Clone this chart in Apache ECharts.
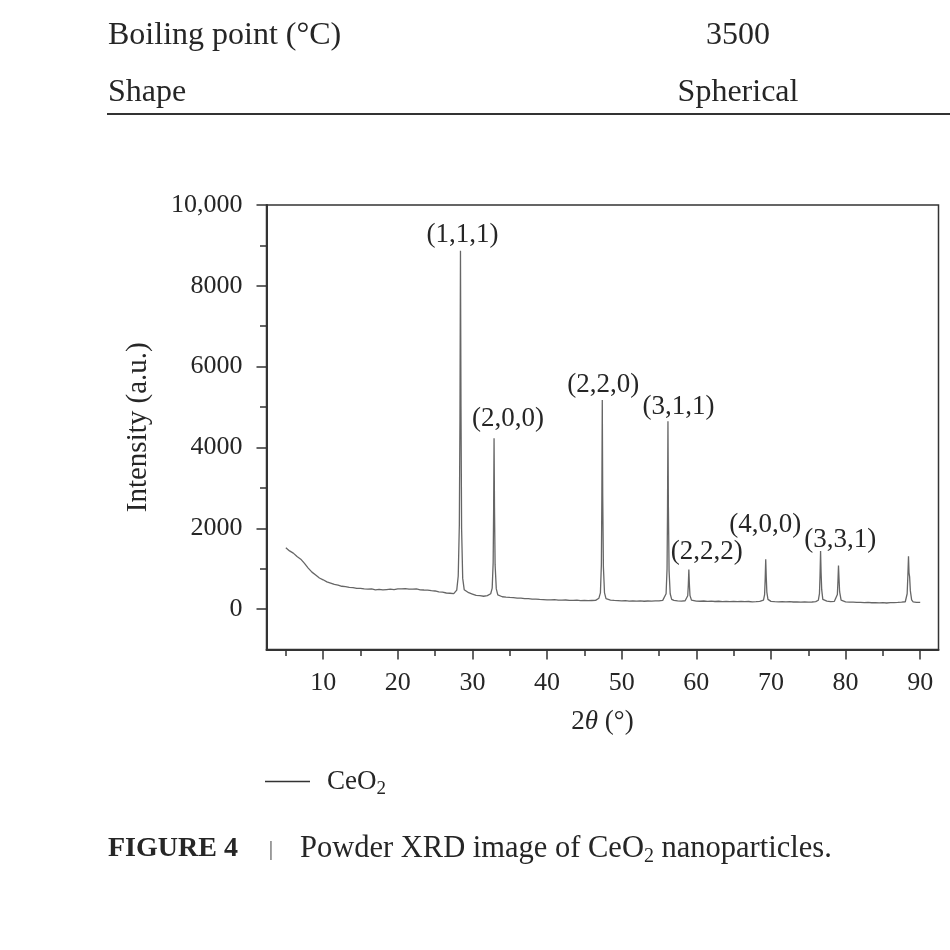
<!DOCTYPE html>
<html>
<head>
<meta charset="utf-8">
<title>Powder XRD of CeO2</title>
<script src="https://cdn.jsdelivr.net/npm/echarts@6/dist/echarts.min.js"></script>
<style>
  html, body { margin: 0; padding: 0; background: #fff; }
  #chart { width: 950px; height: 950px; }
</style>
</head>
<body>
<div id="chart"></div>
<script>
// 2θ (°) vs intensity (a.u.)
const ceo2Pattern = [
  [5.0,1520],[5.5,1440],[6.0,1385],[6.5,1300],[7.0,1235],[7.5,1130],[8.0,1015],[8.5,915],[9.0,845],[9.5,770],
  [10.0,725],[10.5,675],[11.0,645],[11.5,610],[12.0,595],[12.5,565],[13.0,558],[13.5,535],[14.0,532],[14.5,512],
  [15.0,515],[15.5,498],[16.0,492],[16.5,500],[17.0,478],[17.5,488],[18.0,474],[18.5,484],[19.0,492],[19.5,482],
  [20.0,498],[20.5,502],[21.0,508],[21.5,496],[22.0,492],[22.5,498],[23.0,478],[23.5,472],[24.0,468],[24.5,456],
  [25.0,448],[25.5,428],[26.0,418],[26.5,398],[27.0,392],[27.5,382],
  [27.9,470],[28.1,820],[28.25,2100],[28.33,4700],[28.4,8870],[28.47,5000],[28.55,2000],[28.7,760],[28.9,480],
  [29.5,405],[30.0,372],[30.5,338],[31.0,332],[31.5,318],[32.0,335],
  [32.45,380],[32.65,520],[32.78,1150],[32.84,2400],[32.9,4225],[32.96,2500],[33.04,1100],[33.2,500],[33.4,350],
  [34.0,305],[34.5,296],[35.0,288],[35.5,282],[36.0,272],[36.5,270],[37.0,260],[37.5,258],[38.0,248],[38.5,246],
  [39.0,238],[39.5,236],[40.0,230],[40.5,228],[41.0,232],[41.5,222],[42.0,220],[42.5,225],[43.0,216],[43.5,214],
  [44.0,220],[44.5,210],[45.0,216],[45.5,208],[46.0,212],[46.5,216],
  [46.95,270],[47.15,400],[47.28,1100],[47.34,2700],[47.4,5175],[47.46,2800],[47.55,1050],[47.7,400],[47.9,260],
  [48.5,224],[49.0,214],[49.5,210],[50.0,204],[50.5,208],[51.0,198],[51.5,205],[52.0,196],[52.5,202],[53.0,194],
  [53.5,200],[54.0,196],[54.5,203],[55.0,205],[55.5,216],
  [55.75,250],[55.95,380],[56.08,1000],[56.14,2400],[56.2,4650],[56.26,2500],[56.35,950],[56.5,380],[56.7,240],
  [57.0,214],[57.5,204],[58.0,198],[58.5,206],
  [58.7,230],[58.85,330],[58.93,600],[59.0,980],[59.07,620],[59.15,340],[59.35,222],
  [59.5,205],[60.0,196],[60.5,194],[61.0,200],[61.5,190],[62.0,196],[62.5,188],[63.0,194],[63.5,186],[64.0,192],
  [64.5,184],[65.0,190],[65.5,185],[66.0,191],[66.5,183],[67.0,188],[67.5,181],[68.0,186],[68.5,192],
  [69.0,222],[69.15,360],[69.23,750],[69.3,1230],[69.37,800],[69.45,420],[69.6,240],[69.8,200],
  [70.0,190],[70.5,183],[71.0,179],[71.5,186],[72.0,177],[72.5,183],[73.0,175],[73.5,181],[74.0,174],[74.5,179],
  [75.0,171],[75.5,176],[76.0,186],
  [76.35,220],[76.5,380],[76.58,850],[76.65,1435],[76.72,900],[76.8,480],[76.95,240],
  [77.5,196],[78.0,185],[78.5,192],
  [78.75,212],[78.9,360],[78.98,700],[79.05,1080],[79.12,760],[79.2,430],[79.4,222],
  [80.0,180],[80.5,174],[81.0,170],[81.5,164],[82.0,168],[82.5,159],[83.0,165],[83.5,157],[84.0,162],[84.5,154],
  [85.0,160],[85.5,151],[86.0,158],[86.5,161],[87.0,164],[87.5,171],[88.0,182],
  [88.1,200],[88.25,380],[88.35,850],[88.43,1310],[88.5,900],[88.58,800],[88.68,450],[88.85,230],[89.05,180],
  [89.5,168],[90.0,164]
];

// Miller indices written over the peaks, and where they sit (2θ, intensity)
const peakNames = ['(1,1,1)', '(2,0,0)', '(2,2,0)', '(3,1,1)', '(2,2,2)', '(4,0,0)', '(3,3,1)'];
const peakLabelAt = [[28.66, 9257], [34.76, 4696], [47.54, 5545], [57.6, 5007], [61.4, 1418], [69.22, 2079], [79.27, 1708]];

const xMajorTicks = [10, 20, 30, 40, 50, 60, 70, 80, 90];
const xMinorTicks = [5, 15, 25, 35, 45, 55, 65, 75, 85];
const yMajorTicks = [0, 2000, 4000, 6000, 8000, 10000];
const yTickLabels = ['0', '2000', '4000', '6000', '8000', '10,000'];
const yMinorTicks = [1000, 3000, 5000, 7000, 9000];

const X_MIN = 2.41, X_MAX = 92.45;
const Y_MIN = -1000, Y_MAX = 10000;

const FONT = '"Liberation Serif", "DejaVu Serif", serif';
const INK = '#262626';
const AXIS = '#333';

const chart = echarts.init(document.getElementById('chart'));

const hiddenAxisBits = {
  axisLine: { show: false, onZero: false },
  axisLabel: { show: false },
  splitLine: { show: false }
};

chart.setOption({
  animation: false,
  textStyle: { fontFamily: FONT, color: INK },
  grid: {
    left: 266.5, top: 205, right: 11.5, bottom: 300.5,
    show: true, borderColor: AXIS, borderWidth: 1.5
  },
  legend: {
    data: [{ name: 'CeO2', icon: 'rect' }],
    left: 260, top: 763,
    itemWidth: 45, itemHeight: 1.5,
    itemStyle: { color: '#333' },
    formatter: () => '{a|CeO}{b|2}',
    textStyle: {
      rich: {
        a: { fontSize: 27, fontFamily: FONT, color: INK, lineHeight: 34, padding: [0, 0, 0, 12] },
        b: { fontSize: 19, fontFamily: FONT, color: INK, lineHeight: 19, verticalAlign: 'bottom' }
      }
    }
  },
  xAxis: [
    {
      type: 'value', min: X_MIN, max: X_MAX, position: 'bottom',
      axisLine: { onZero: false, lineStyle: { color: AXIS, width: 2 } },
      axisTick: { length: 10, customValues: xMajorTicks, lineStyle: { color: AXIS, width: 1.5 } },
      axisLabel: { customValues: xMajorTicks, margin: 21, fontSize: 26, fontFamily: FONT, color: INK },
      splitLine: { show: false },
      name: '{n|2}{i|θ}{n| (°)}',
      nameLocation: 'middle', nameGap: 59,
      nameTextStyle: {
        rich: {
          n: { fontSize: 27, fontFamily: FONT, color: INK },
          i: { fontSize: 27, fontFamily: FONT, color: INK, fontStyle: 'italic' }
        }
      }
    },
    Object.assign({
      type: 'value', min: X_MIN, max: X_MAX, position: 'bottom', offset: 0,
      axisTick: { show: true, length: 6.5, customValues: xMinorTicks, lineStyle: { color: AXIS, width: 1.5 } }
    }, hiddenAxisBits)
  ],
  yAxis: [
    {
      type: 'value', min: Y_MIN, max: Y_MAX, interval: 1000, position: 'left',
      axisLine: { show: true, onZero: false, lineStyle: { color: AXIS, width: 2 } },
      axisTick: { show: true, length: 10, customValues: yMajorTicks, lineStyle: { color: AXIS, width: 1.5 } },
      axisLabel: {
        customValues: yMajorTicks, margin: 24, fontSize: 26, fontFamily: FONT, color: INK,
        formatter: v => yTickLabels[yMajorTicks.indexOf(v)]
      },
      splitLine: { show: false },
      name: 'Intensity (a.u.)',
      nameLocation: 'middle', nameGap: 114,
      nameTextStyle: { fontSize: 29, fontFamily: FONT, color: INK }
    },
    Object.assign({
      type: 'value', min: Y_MIN, max: Y_MAX, interval: 1000, position: 'left', offset: 0,
      axisTick: { show: true, length: 6.5, customValues: yMinorTicks, lineStyle: { color: AXIS, width: 1.5 } }
    }, hiddenAxisBits)
  ],
  series: [
    {
      name: 'CeO2', type: 'line', data: ceo2Pattern,
      xAxisIndex: 0, yAxisIndex: 0,
      symbol: 'none', smooth: false,
      lineStyle: { color: '#666', width: 1.3 },
      itemStyle: { color: '#666' }
    },
    {
      name: 'hkl', type: 'scatter', silent: true,
      xAxisIndex: 0, yAxisIndex: 0,
      symbolSize: 1, itemStyle: { color: 'rgba(0,0,0,0)', opacity: 1 },
      data: peakNames.map((n, i) => ({ name: n, value: peakLabelAt[i] })),
      label: {
        show: true, position: 'inside', formatter: '{b}', fontSize: 27, fontFamily: FONT,
        color: INK, opacity: 1, textBorderWidth: 0
      },
      z: 5
    }
  ],
  graphic: [
    { type: 'text', style: { text: 'Boiling point (°C)', x: 108, y: 36, fontSize: 32, fontFamily: FONT, fill: INK, align: 'left', verticalAlign: 'middle' } },
    { type: 'text', style: { text: '3500', x: 738, y: 36, fontSize: 32, fontFamily: FONT, fill: INK, align: 'center', verticalAlign: 'middle' } },
    { type: 'text', style: { text: 'Shape', x: 108, y: 93, fontSize: 32, fontFamily: FONT, fill: INK, align: 'left', verticalAlign: 'middle' } },
    { type: 'text', style: { text: 'Spherical', x: 738, y: 93, fontSize: 32, fontFamily: FONT, fill: INK, align: 'center', verticalAlign: 'middle' } },
    { type: 'line', shape: { x1: 107, y1: 114, x2: 950, y2: 114 }, style: { stroke: AXIS, lineWidth: 2 } },
    { type: 'text', style: { text: 'FIGURE 4', x: 108, y: 849, fontSize: 28, fontWeight: 'bold', fontFamily: FONT, fill: INK, align: 'left', verticalAlign: 'middle' } },
    { type: 'text', style: { text: '|', x: 271, y: 849, fontSize: 22, fontFamily: FONT, fill: '#555', align: 'center', verticalAlign: 'middle' } },
    {
      type: 'text',
      style: {
        text: '{n|Powder XRD image of CeO}{s|2}{n| nanoparticles.}',
        x: 300, y: 849, align: 'left', verticalAlign: 'middle', fill: INK,
        rich: {
          n: { fontSize: 30.5, fontFamily: FONT, color: INK, lineHeight: 36, verticalAlign: 'middle' },
          s: { fontSize: 20, fontFamily: FONT, color: INK, lineHeight: 20, verticalAlign: 'bottom' }
        }
      }
    }
  ]
});
</script>
</body>
</html>
